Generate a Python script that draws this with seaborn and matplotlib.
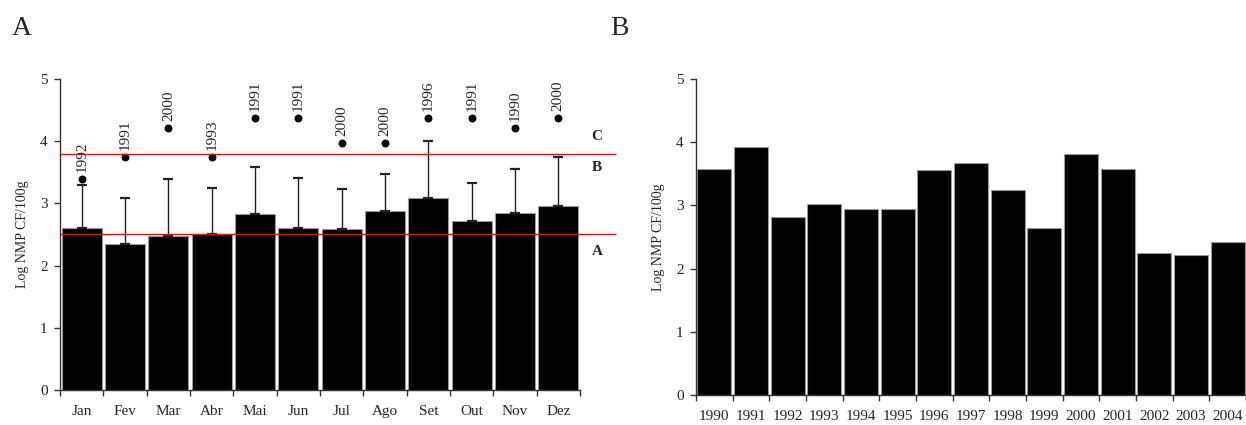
import seaborn as sns
import numpy as np
import matplotlib.pyplot as plt

# panel A - monthly means, upper error, max value and the year of the max
months = ['Jan', 'Fev', 'Mar', 'Abr', 'Mai', 'Jun', 'Jul', 'Ago', 'Set', 'Out', 'Nov', 'Dez']
month_mean = [2.60, 2.35, 2.48, 2.50, 2.83, 2.60, 2.58, 2.87, 3.08, 2.71, 2.84, 2.96]
month_err_top = [3.29, 3.09, 3.39, 3.24, 3.59, 3.40, 3.23, 3.48, 4.00, 3.32, 3.56, 3.74]
month_max = [3.39, 3.74, 4.21, 3.74, 4.38, 4.38, 3.97, 3.97, 4.38, 4.38, 4.21, 4.38]
month_max_year = ['1992', '1991', '2000', '1993', '1991', '1991', '2000', '2000', '1996', '1991', '1990', '2000']
limits = [3.8, 2.5]
limit_labels = ['C', 'B', 'A']
limit_label_y = [4.07, 3.57, 2.22]

# panel B - yearly means
years = ['1990', '1991', '1992', '1993', '1994', '1995', '1996', '1997',
         '1998', '1999', '2000', '2001', '2002', '2003', '2004']
year_mean = [3.58, 3.92, 2.82, 3.02, 2.94, 2.95, 3.56, 3.67, 3.24, 2.65, 3.82, 3.57, 2.25, 2.21, 2.42]

sns.set_style('ticks')
plt.rcParams['font.family'] = ['Liberation Serif', 'DejaVu Serif']
plt.rcParams['font.size'] = 11

fig = plt.figure(figsize=(12.46, 4.25), dpi=100)
axA = fig.add_axes([0.0482, 0.0824, 0.4173, 0.7318])
axB = fig.add_axes([0.5586, 0.0706, 0.4414, 0.7435])


def style_axis(ax, labels):
    n = len(labels)
    ax.set_xlim(-0.5, n - 0.5)
    ax.set_ylim(0, 5)
    ax.set_yticks(range(6))
    # ticks on category boundaries, labels on the centers
    ax.set_xticks(np.arange(n + 1) - 0.5)
    ax.set_xticklabels([])
    ax.set_xticks(np.arange(n), minor=True)
    ax.set_xticklabels(labels, minor=True)
    ax.tick_params(axis='x', which='major', length=4, width=1, color='#333')
    ax.tick_params(axis='x', which='minor', length=0, pad=11, labelsize=11)
    ax.tick_params(axis='y', length=4, width=1, color='#333', pad=5, labelsize=11)
    ax.set_xlabel('')
    ax.set_ylabel('Log NMP CF/100g', fontsize=10, labelpad=8)
    for s in ['left', 'bottom']:
        ax.spines[s].set_color('#333')
        ax.spines[s].set_linewidth(1)
    sns.despine(ax=ax)


# panel A
sns.barplot(x=months, y=month_mean, color='black', width=0.92, edgecolor='#9a9a9a',
            linewidth=0.8, saturation=1, ax=axA)
xs = np.arange(len(months))
up = np.array(month_err_top) - np.array(month_mean)
axA.errorbar(xs, month_mean, yerr=[np.zeros(len(xs)), up], fmt='none', ecolor='#222',
             elinewidth=1, capsize=3.5, capthick=1.6, zorder=3)
axA.scatter(xs, month_max, s=22, color='black', zorder=4)
for x, y, t in zip(xs, month_max, month_max_year):
    axA.annotate(t, (x, y), xytext=(0, 5), textcoords='offset points', rotation=90,
                 ha='center', va='bottom', fontsize=11)
n = len(months)
for y in limits:
    axA.hlines(y, -0.5, n - 0.5 + 0.82, color='red', lw=1, clip_on=False, zorder=5)
for t, y in zip(limit_labels, limit_label_y):
    axA.text(n - 0.5 + 0.27, y, t, fontsize=11, fontweight='bold', ha='left', va='center')
style_axis(axA, months)

# panel B
sns.barplot(x=years, y=year_mean, color='black', width=0.92, edgecolor='#9a9a9a',
            linewidth=0.8, saturation=1, ax=axB)
style_axis(axB, years)

fig.text(0.0177, 0.934, 'A', fontsize=20, ha='center', va='center')
fig.text(0.4975, 0.934, 'B', fontsize=20, ha='center', va='center')

fig.savefig('out.png', dpi=100)
